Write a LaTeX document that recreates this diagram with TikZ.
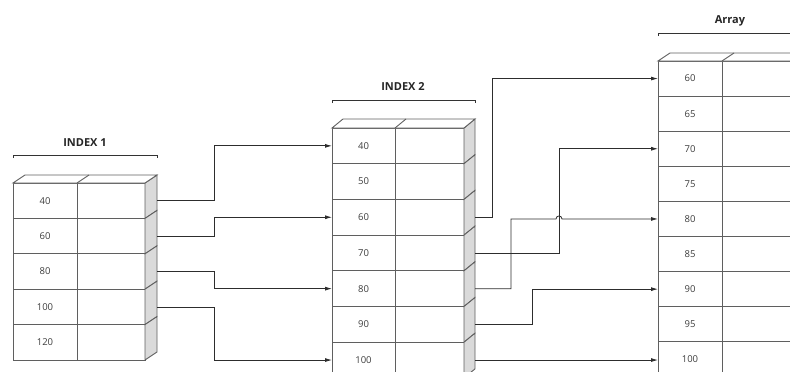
\documentclass[tikz,border=0pt]{standalone}
\usepackage{fontspec}
\setmainfont{Open Sans}
\usetikzlibrary{arrows.meta, positioning, calc}
\definecolor{colLine}{RGB}{95,95,95}
\definecolor{colSide}{RGB}{218,218,218}
\definecolor{colText}{RGB}{60,60,60}
\definecolor{colArrow}{RGB}{45,45,45}

\begin{document}
\begin{tikzpicture}[
  x=1pt, y=-1pt,
  key/.style={rectangle, draw=colLine, line width=0.9pt, minimum width=64pt,
              minimum height=35.4pt, inner sep=0pt, outer sep=0pt, anchor=north west,
              font=\fontsize{9.5}{11}\selectfont, text=colText},
  val/.style={key, minimum width=68pt},
  edge/.style={draw=colLine, line width=0.9pt},
  side/.style={edge, fill=colSide},
  title/.style={font=\bfseries\fontsize{11}{13}\selectfont, text=black!85},
  brace/.style={draw=black!80, line width=0.8pt},
  arr/.style={-{Latex[length=7pt,width=4pt]}, draw=colArrow, line width=0.8pt},
]
\useasboundingbox (0,0) rectangle (790,372);
\clip (0,0) rectangle (790,372);

% INDEX 1
\node[title] (t1) at (85,143) {INDEX 1};
\draw[brace] (13,158) -- (13,155) -- (157,155) -- (157,158);
\foreach \v [count=\i from 0] in {40,60,80,100,120}{
  \node[key] (a-\v) at (13,183+\i*35.4) {\v};
  \node[val, right=0pt of a-\v] (av-\v) {};
  \filldraw[side] (av-\v.north east) -- ++(12,-8) -- ($(av-\v.south east)+(12,-8)$) -- (av-\v.south east) -- cycle;
  \coordinate (ao-\v) at ($(av-\v.east)+(12,0)$);
}
\filldraw[edge, fill=white] (a-40.north west) -- ++(12,-8) -- ($(av-40.north east)+(12,-8)$) -- (av-40.north east) -- cycle;
\draw[edge] (av-40.north west) -- ++(12,-8);

% INDEX 2
\node[title] (t2) at (403,87) {INDEX 2};
\draw[brace] (332,103) -- (332,100) -- (475,100) -- (475,103);
\foreach \v [count=\i from 0] in {40,50,60,70,80,90,100}{
  \node[key, minimum width=63pt, minimum height=35.7pt] (b-\v) at (332,128+\i*35.7) {\v};
  \node[val, minimum width=69pt, minimum height=35.7pt, right=0pt of b-\v] (bv-\v) {};
  \filldraw[side] (bv-\v.north east) -- ++(11,-9) -- ($(bv-\v.south east)+(11,-9)$) -- (bv-\v.south east) -- cycle;
  \coordinate (bo-\v) at ($(bv-\v.east)+(11,0)$);
}
\filldraw[edge, fill=white] (b-40.north west) -- ++(11,-9) -- ($(bv-40.north east)+(11,-9)$) -- (bv-40.north east) -- cycle;
\draw[edge] (bv-40.north west) -- ++(11,-9);

% Array
\node[title] (t3) at (730,21) {Array};
\draw[brace] (658,36) -- (658,33) -- (800,33);
\foreach \v [count=\i from 0] in {60,65,70,75,80,85,90,95,100}{
  \node[key, minimum height=35.1pt] (c-\v) at (658,61+\i*35.1) {\v};
  \node[val, minimum width=90pt, minimum height=35.1pt, right=0pt of c-\v] (cv-\v) {};
}
\filldraw[edge, fill=white] (c-60.north west) -- ++(12,-8) -- ($(cv-60.north east)+(12,-8)$) -- (cv-60.north east) -- cycle;
\draw[edge] (cv-60.north west) -- ++(12,-8);

% INDEX 1 -> INDEX 2
\draw[arr] (ao-40) -- ++(57,0) |- (b-40.west);
\draw[arr] (ao-60) -- ++(57,0) |- (b-60.west);
\draw[arr] (ao-80) -- ++(57,0) |- (b-80.west);
\draw[arr] (ao-100) -- ++(57,0) |- (b-100.west);

% INDEX 2 -> Array
\draw[arr] (bo-60) -- ++(17,0) |- (c-60.west);
\draw[arr] (bo-70) -- ++(84,0) coordinate (jog) |- (c-70.west);
\draw[arr] (bo-80) -- ++(36,0) |- ($(c-80.west -| jog)+(-3,0)$)
  arc[start angle=180, end angle=0, radius=3pt] -- (c-80.west);
\draw[arr] (bo-90) -- ++(57,0) |- (c-90.west);
\draw[arr] (bo-100) -- (bo-100 -| c-100.west);

\end{tikzpicture}
\end{document}
